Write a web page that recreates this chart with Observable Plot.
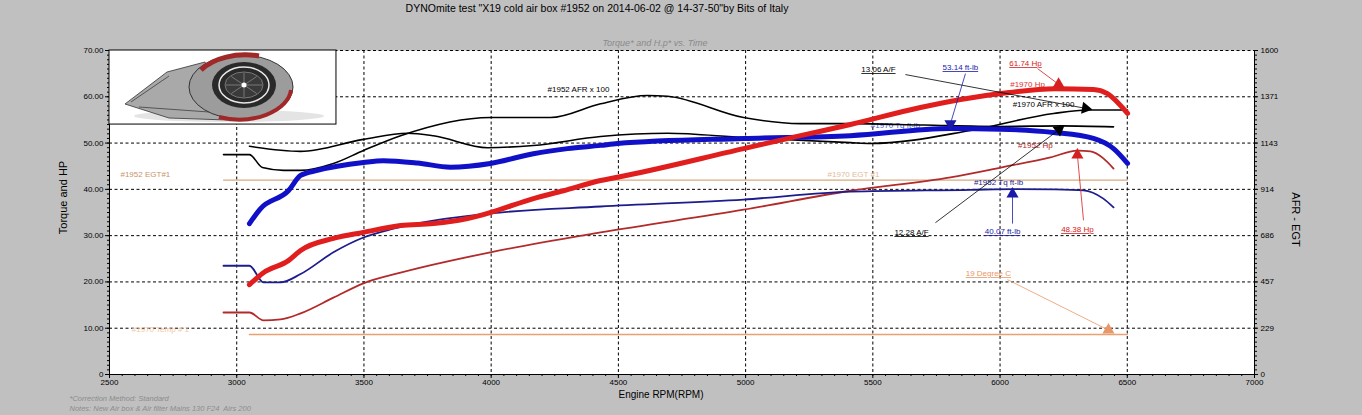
<!DOCTYPE html>
<html><head><meta charset="utf-8">
<script src="https://cdn.jsdelivr.net/npm/d3@7"></script>
<script src="https://cdn.jsdelivr.net/npm/@observablehq/plot@0.6"></script>
<style>html,body{margin:0;padding:0;background:#c0c0c0;overflow:hidden}</style>
</head><body><div id="chart"></div>
<script>
// ---- data (rpm, value) ----
const hp1970 = [[3050,19.4],[3105,22.0],[3203,24.6],[3251,26.8],[3380,29.4],[3498,30.7],[3644,32.2],[3773,32.6],[3907,33.7],[3997,35.0],[4166,38.0],[4284,39.7],[4430,41.9],[4496,42.6],[4992,48.8],[5216,51.6],[5412,54.0],[5687,57.7],[6002,60.7],[6217,61.74],[6367,61.6],[6422,60.7],[6501,56.4]];
const tq1970 = [[3050,32.6],[3093,35.8],[3203,39.7],[3251,43.0],[3317,44.1],[3498,45.8],[3577,46.2],[3710,45.7],[3840,44.8],[3997,45.6],[4166,47.7],[4300,48.8],[4430,49.5],[4496,49.9],[4992,51.0],[5412,51.6],[5805,53.14],[6002,53.0],[6210,52.3],[6367,51.0],[6446,48.8],[6501,45.6]];
const tq1952 = [[2948,23.5],[3050,23.5],[3105,19.9],[3172,19.9],[3251,21.7],[3380,26.4],[3498,29.6],[3616,31.5],[3997,34.8],[4430,36.3],[4992,37.8],[5412,39.5],[5884,39.9],[6053,40.07],[6210,40.0],[6328,39.8],[6406,38.0],[6446,36.1]];
const hp1952 = [[2948,13.4],[3050,13.4],[3105,11.7],[3172,11.9],[3251,13.2],[3380,16.6],[3498,19.7],[3644,22.0],[3997,26.4],[4430,30.7],[4992,35.6],[5412,39.7],[5805,42.6],[6002,44.7],[6198,46.9],[6304,48.38],[6356,48.2],[6406,46.7],[6446,44.5]];
// AFR x 100 and EGT on the right-hand scale (0–1600)
const afr1952 = [[2948,1086],[3050,1086],[3101,1022],[3184,1008],[3251,1008],[3380,1042],[3498,1106],[3644,1179],[3997,1269],[4233,1269],[4430,1337],[4614,1378],[4693,1374],[4992,1269],[5216,1239],[5412,1239],[5700,1232],[6000,1225],[6244,1228],[6446,1223]];
const afr1970 = [[3050,1127],[3251,1102],[3498,1161],[3671,1191],[3773,1179],[3986,1120],[4166,1131],[4430,1175],[4693,1191],[4992,1170],[5412,1145],[5491,1141],[5884,1205],[6210,1289],[6344,1306],[6501,1306]];
const egt1952 = [[2948,960],[6500,960]];
const temp1970 = [[3050,197],[6500,197]];

const xTicks = [2500,3000,3500,4000,4500,5000,5500,6000,6500,7000];
const leftTicks = [0,10,20,30,40,50,60,70];
const leftLabels = ["0","10.00","20.00","30.00","40.00","50.00","60.00","70.00"];
const rightLabels = ["0","229","457","686","914","1143","1371","1600"];
const RIGHT_MAX = 1600, LEFT_MAX = 70;

const titleText = "DYNOmite test \"X19 cold air box #1952 on 2014-06-02 @ 14-37-50\"by Bits of Italy";
const subtitleText = "Torque* and H.p* vs. Time";
const captions = ["*Correction Method: Standard", "Notes: New Air box & Air filter Mains 130 F24  Airs 200"];

// value call-outs: text position, pointer start, marker position
const notes = [
 {label:"13.06 A/F", tx:5522, ty:65.9, px:5628, py:64.8, ax:6336, ay:57.5, rot:100, color:"#000000"},
 {label:"53.14 ft-lb", tx:5844, ty:66.3, px:5864, py:65.0, ax:5805, ay:54.2, rot:180, color:"#1a1aa8"},
 {label:"61.74 Hp", tx:6100, ty:67.2, px:6147, py:66.1, ax:6230, ay:62.7, rot:0, color:"#d42020"},
 {label:"12.28 A/F", tx:5652, ty:30.7, px:5746, py:32.8, ax:6232, ay:52.9, rot:52, color:"#000000"},
 {label:"40.07 ft-lb", tx:6010, ty:30.9, px:6049, py:32.6, ax:6049, ay:39.0, rot:0, color:"#1a1aa8"},
 {label:"48.38 Hp", tx:6304, ty:31.3, px:6328, py:33.3, ax:6304, ay:47.4, rot:0, color:"#d42020"},
 {label:"19 Degree C", tx:5954, ty:21.8, px:6029, py:20.5, ax:6426, ay:9.6, rot:0, color:"#e89868"}
];
const seriesLabels = [
 {label:"#1952 AFR x 100", x:4343, y:61.6, anchor:"middle", color:"#000000"},
 {label:"#1970 Hp", x:6108, y:62.6, anchor:"start", color:"#e03030"},
 {label:"#1970 AFR x 100", x:6171, y:58.3, anchor:"start", color:"#000000"},
 {label:"#1952 Hp", x:6139, y:49.5, anchor:"start", color:"#b02828"},
 {label:"#1952 Tq ft-lb", x:5994, y:41.5, anchor:"start", color:"#1c1c8a"},
 {label:"#1970 EGT #1", x:5424, y:43.2, anchor:"start", color:"#e2bc98"},
 {label:"#1952 EGT#1", x:2641, y:43.2, anchor:"start", color:"#c89468"},
 {label:"#1970 Temp # 1", x:2700, y:9.7, anchor:"start", color:"#f0c8a4"}
];
const hiddenLabels = [{label:"#1970 Tq ft-lb", x:5589, y:53.8, anchor:"start", color:"#4060d8"}];

const k = RIGHT_MAX / LEFT_MAX;
const lineSeries = [
 {data:egt1952, right:true, color:"#d8aa80", w:1.2},
 {data:temp1970, right:true, color:"#eaa070", w:1.5},
 {data:hp1952, right:false, color:"#b22a2a", w:1.8},
 {data:tq1952, right:false, color:"#1c1c8c", w:1.8},
 {data:afr1952, right:true, color:"#000000", w:1.6},
 {data:afr1970, right:true, color:"#000000", w:1.6}
];
const thickSeries = [
 {data:tq1970, color:"#1010c8", w:5},
 {data:hp1970, color:"#e01e1e", w:5}
];
const lineMark = s => Plot.line(s.data, {x:d=>d[0], y:d=>s.right ? d[1]/k : d[1], stroke:s.color, strokeWidth:s.w, curve:"monotone-x", strokeLinecap:"round", strokeLinejoin:"round"});
const labelMark = arr => Plot.text(arr, {x:"x", y:"y", text:"label", fill:"color", textAnchor:d=>d.anchor, fontSize:8});

const plot = Plot.plot({
  width:1362, height:415,
  marginLeft:109, marginRight:108, marginTop:50, marginBottom:41,
  x:{domain:[2500,7000]},
  y:{domain:[0,70]},
  style:{background:"#c0c0c0", fontFamily:"Liberation Sans, Arial, sans-serif", overflow:"visible"},
  marks:[
    Plot.frame({fill:"white", stroke:null}),
    Plot.gridY([10,20,30,40,50,60,70], {stroke:"black", strokeOpacity:1, strokeDasharray:"3,2.5", strokeWidth:1}),
    Plot.gridX([3000,3500,4000,4500,5000,5500,6000,6500], {stroke:"black", strokeOpacity:1, strokeDasharray:"3,2.5", strokeWidth:1}),
    labelMark(hiddenLabels),
    ...lineSeries.map(lineMark),
    labelMark(seriesLabels.filter(d=>!d.label.startsWith("#1970 Hp"))),
    ...thickSeries.map(s => lineMark({...s, right:false})),
    labelMark(seriesLabels.filter(d=>d.label.startsWith("#1970 Hp"))),
    Plot.link(notes, {x1:"px", y1:"py", x2:"ax", y2:"ay", stroke:"color", strokeWidth:0.8}),
    Plot.dot(notes, {x:"ax", y:"ay", symbol:"triangle", r:4.5, fill:"color", stroke:null, rotate:"rot"}),
    Plot.text(notes, {x:"tx", y:"ty", text:"label", fill:"color", fontSize:8}),
    Plot.ruleX([2500,7000], {stroke:"black", strokeWidth:1}),
    Plot.ruleY([0], {stroke:"black", strokeWidth:1}),
    Plot.axisX({ticks:xTicks, tickFormat:d=>String(d), tickSize:4, tickPadding:1, fontSize:8, label:null}),
    Plot.axisX({ticks:d3.range(2500,7001,50), tickFormat:()=>"", tickSize:2, label:null}),
    Plot.axisY({ticks:leftTicks, tickFormat:(d,i)=>leftLabels[i], tickSize:4, tickPadding:2, fontSize:8, label:null}),
    Plot.axisY({ticks:d3.range(0,70.01,1), tickFormat:()=>"", tickSize:2, label:null}),
    Plot.axisY({anchor:"right", ticks:leftTicks, tickFormat:(d,i)=>rightLabels[i], tickSize:3, tickPadding:3, fontSize:8, label:null}),
    Plot.axisY({anchor:"right", ticks:d3.range(0,70.01,1), tickFormat:()=>"", tickSize:2, label:null}),
    Plot.text([titleText], {frameAnchor:"top", dx:-85, dy:-42, lineAnchor:"middle", textAnchor:"middle", text:d=>d, fontSize:10.5, fill:"black"}),
    Plot.text([subtitleText], {frameAnchor:"top", dx:-27, dy:-7, lineAnchor:"middle", textAnchor:"middle", text:d=>d, fontSize:9, fill:"#8a8a8a", fontStyle:"italic"}),
    Plot.text(["Torque and HP"], {frameAnchor:"left", dx:-46, dy:-15, rotate:-90, lineAnchor:"middle", textAnchor:"middle", text:d=>d, fontSize:11, fill:"black"}),
    Plot.text(["AFR - EGT"], {frameAnchor:"right", dx:41, dy:7, rotate:90, lineAnchor:"middle", textAnchor:"middle", text:d=>d, fontSize:11, fill:"black"}),
    Plot.text(["Engine RPM(RPM)"], {frameAnchor:"bottom", dx:-21, dy:20, lineAnchor:"middle", textAnchor:"middle", text:d=>d, fontSize:10, fill:"black"}),
    Plot.text([captions[0]], {frameAnchor:"bottom-left", dx:-40, dy:24, lineAnchor:"middle", textAnchor:"start", text:d=>d, fontSize:7.5, fill:"#8c8c8c", fontStyle:"italic"}),
    Plot.text([captions[1]], {frameAnchor:"bottom-left", dx:-40, dy:34, lineAnchor:"middle", textAnchor:"start", text:d=>d, fontSize:7.5, fill:"#8c8c8c", fontStyle:"italic"})
  ]
});
document.getElementById("chart").append(plot);

const svg = d3.select(plot);
// underline value call-outs
const underlined = new Set(notes.map(d=>d.label));
svg.selectAll("text").filter(function(){return underlined.has(this.textContent);}).attr("text-decoration","underline");

// logo panel in the top-left corner
const xs = plot.scale("x"), ys = plot.scale("y");
const x0 = xs.apply(2500), x1 = xs.apply(3392), y0 = ys.apply(70), y1 = ys.apply(54);
const g = svg.append("g").attr("transform", `translate(${x0},${y0})`);
const W = x1 - x0, H = y1 - y0;
g.append("rect").attr("width", W).attr("height", H).attr("fill","white").attr("stroke","black");
g.append("ellipse").attr("cx",120).attr("cy",66).attr("rx",95).attr("ry",6).attr("fill","#e4e4e4");
g.append("path").attr("d","M16,54 L58,22 L96,12 L118,70 L60,68 Z").attr("fill","#a9a9a9").attr("stroke","#333").attr("stroke-width",0.8);
g.append("path").attr("d","M22,52 L60,26 M30,57 L100,62").attr("stroke","#555").attr("stroke-width",1);
g.append("ellipse").attr("cx",132).attr("cy",37).attr("rx",52).attr("ry",32).attr("fill","#9c9c9c").attr("stroke","#333");
g.append("path").attr("d","M92,20 A52,32 0 0 1 150,6").attr("fill","none").attr("stroke","#a02828").attr("stroke-width",5);
g.append("path").attr("d","M182,40 A52,32 0 0 1 110,67").attr("fill","none").attr("stroke","#a02828").attr("stroke-width",4);
g.append("ellipse").attr("cx",135).attr("cy",35).attr("rx",32).attr("ry",23).attr("fill","#2a2a2a");
g.append("ellipse").attr("cx",135).attr("cy",35).attr("rx",25).attr("ry",18).attr("fill","none").attr("stroke","#e8e8e8").attr("stroke-width",1.5);
g.append("ellipse").attr("cx",135).attr("cy",35).attr("rx",19).attr("ry",13).attr("fill","#3a3a3a").attr("stroke","#777");
for (let a = 0; a < 360; a += 45) {
  const r = Math.PI * a / 180;
  g.append("line").attr("x1",135).attr("y1",35).attr("x2",135+18*Math.cos(r)).attr("y2",35+12*Math.sin(r)).attr("stroke","#888").attr("stroke-width",0.8);
}
g.append("circle").attr("cx",135).attr("cy",35).attr("r",2.5).attr("fill","white");
</script>
</body></html>
